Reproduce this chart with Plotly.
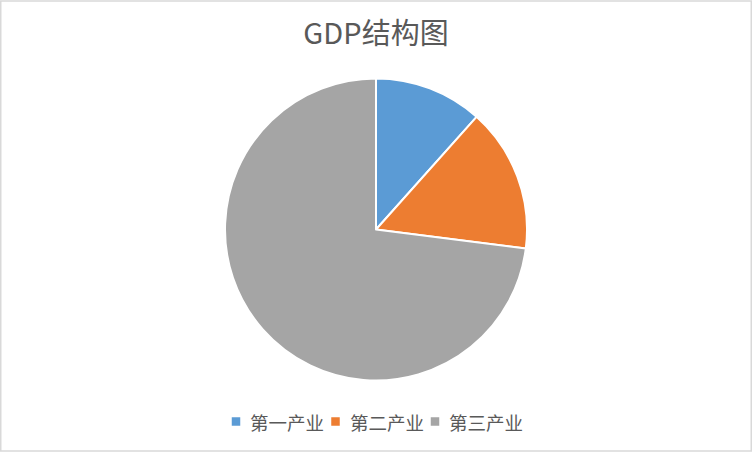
import plotly.graph_objects as go

labels = ["第一产业", "第二产业", "第三产业"]
values = [11.6, 15.4, 73.0]
colors = ["#5B9BD5", "#ED7D31", "#A5A5A5"]

W, H = 752, 452
cx, cy, r = 376, 229.5, 151

fig = go.Figure(go.Pie(
    labels=labels,
    values=values,
    marker=dict(colors=colors, line=dict(color="white", width=2)),
    sort=False,
    direction="clockwise",
    rotation=0,
    textinfo="none",
    hoverinfo="label+value+percent",
    showlegend=False,
    domain=dict(x=[(cx - r) / W, (cx + r) / W], y=[(H - cy - r) / H, (H - cy + r) / H]),
))

# legend drawn as text + swatches (Excel-style compact spacing)
leg_y = 421.5
first_sq = 236.0
pitch = 99.5
sq = 8.5
shapes = [dict(type="rect", xref="paper", yref="paper", x0=0.001, y0=0.002, x1=0.999, y1=0.998,
               line=dict(color="#D9D9D9", width=1.5))]
annotations = []
for i, (lab, col) in enumerate(zip(labels, colors)):
    xc = first_sq + i * pitch
    shapes.append(dict(type="rect", xref="paper", yref="paper",
                       x0=(xc - sq / 2) / W, x1=(xc + sq / 2) / W,
                       y0=(H - leg_y - sq / 2) / H, y1=(H - leg_y + sq / 2) / H,
                       fillcolor=col, line=dict(width=0)))
    annotations.append(dict(text=lab, xref="paper", yref="paper", x=(xc + 12) / W, y=(H - leg_y) / H,
                            xanchor="left", yanchor="middle", showarrow=False,
                            font=dict(family="Noto Sans CJK SC", size=18.5, color="#595959")))

fig.update_layout(
    width=W, height=H,
    margin=dict(l=0, r=0, t=0, b=0),
    paper_bgcolor="white",
    title=dict(text="GDP结构图", x=0.5, xanchor="center", y=1 - 34 / H, yanchor="middle",
               font=dict(family="Noto Sans CJK SC", size=29, color="#595959")),
    shapes=shapes,
    annotations=annotations,
)

fig.write_html("out.html", config={"displayModeBar": False},
               post_script="document.body.style.margin='0';document.body.style.overflow='hidden';")
